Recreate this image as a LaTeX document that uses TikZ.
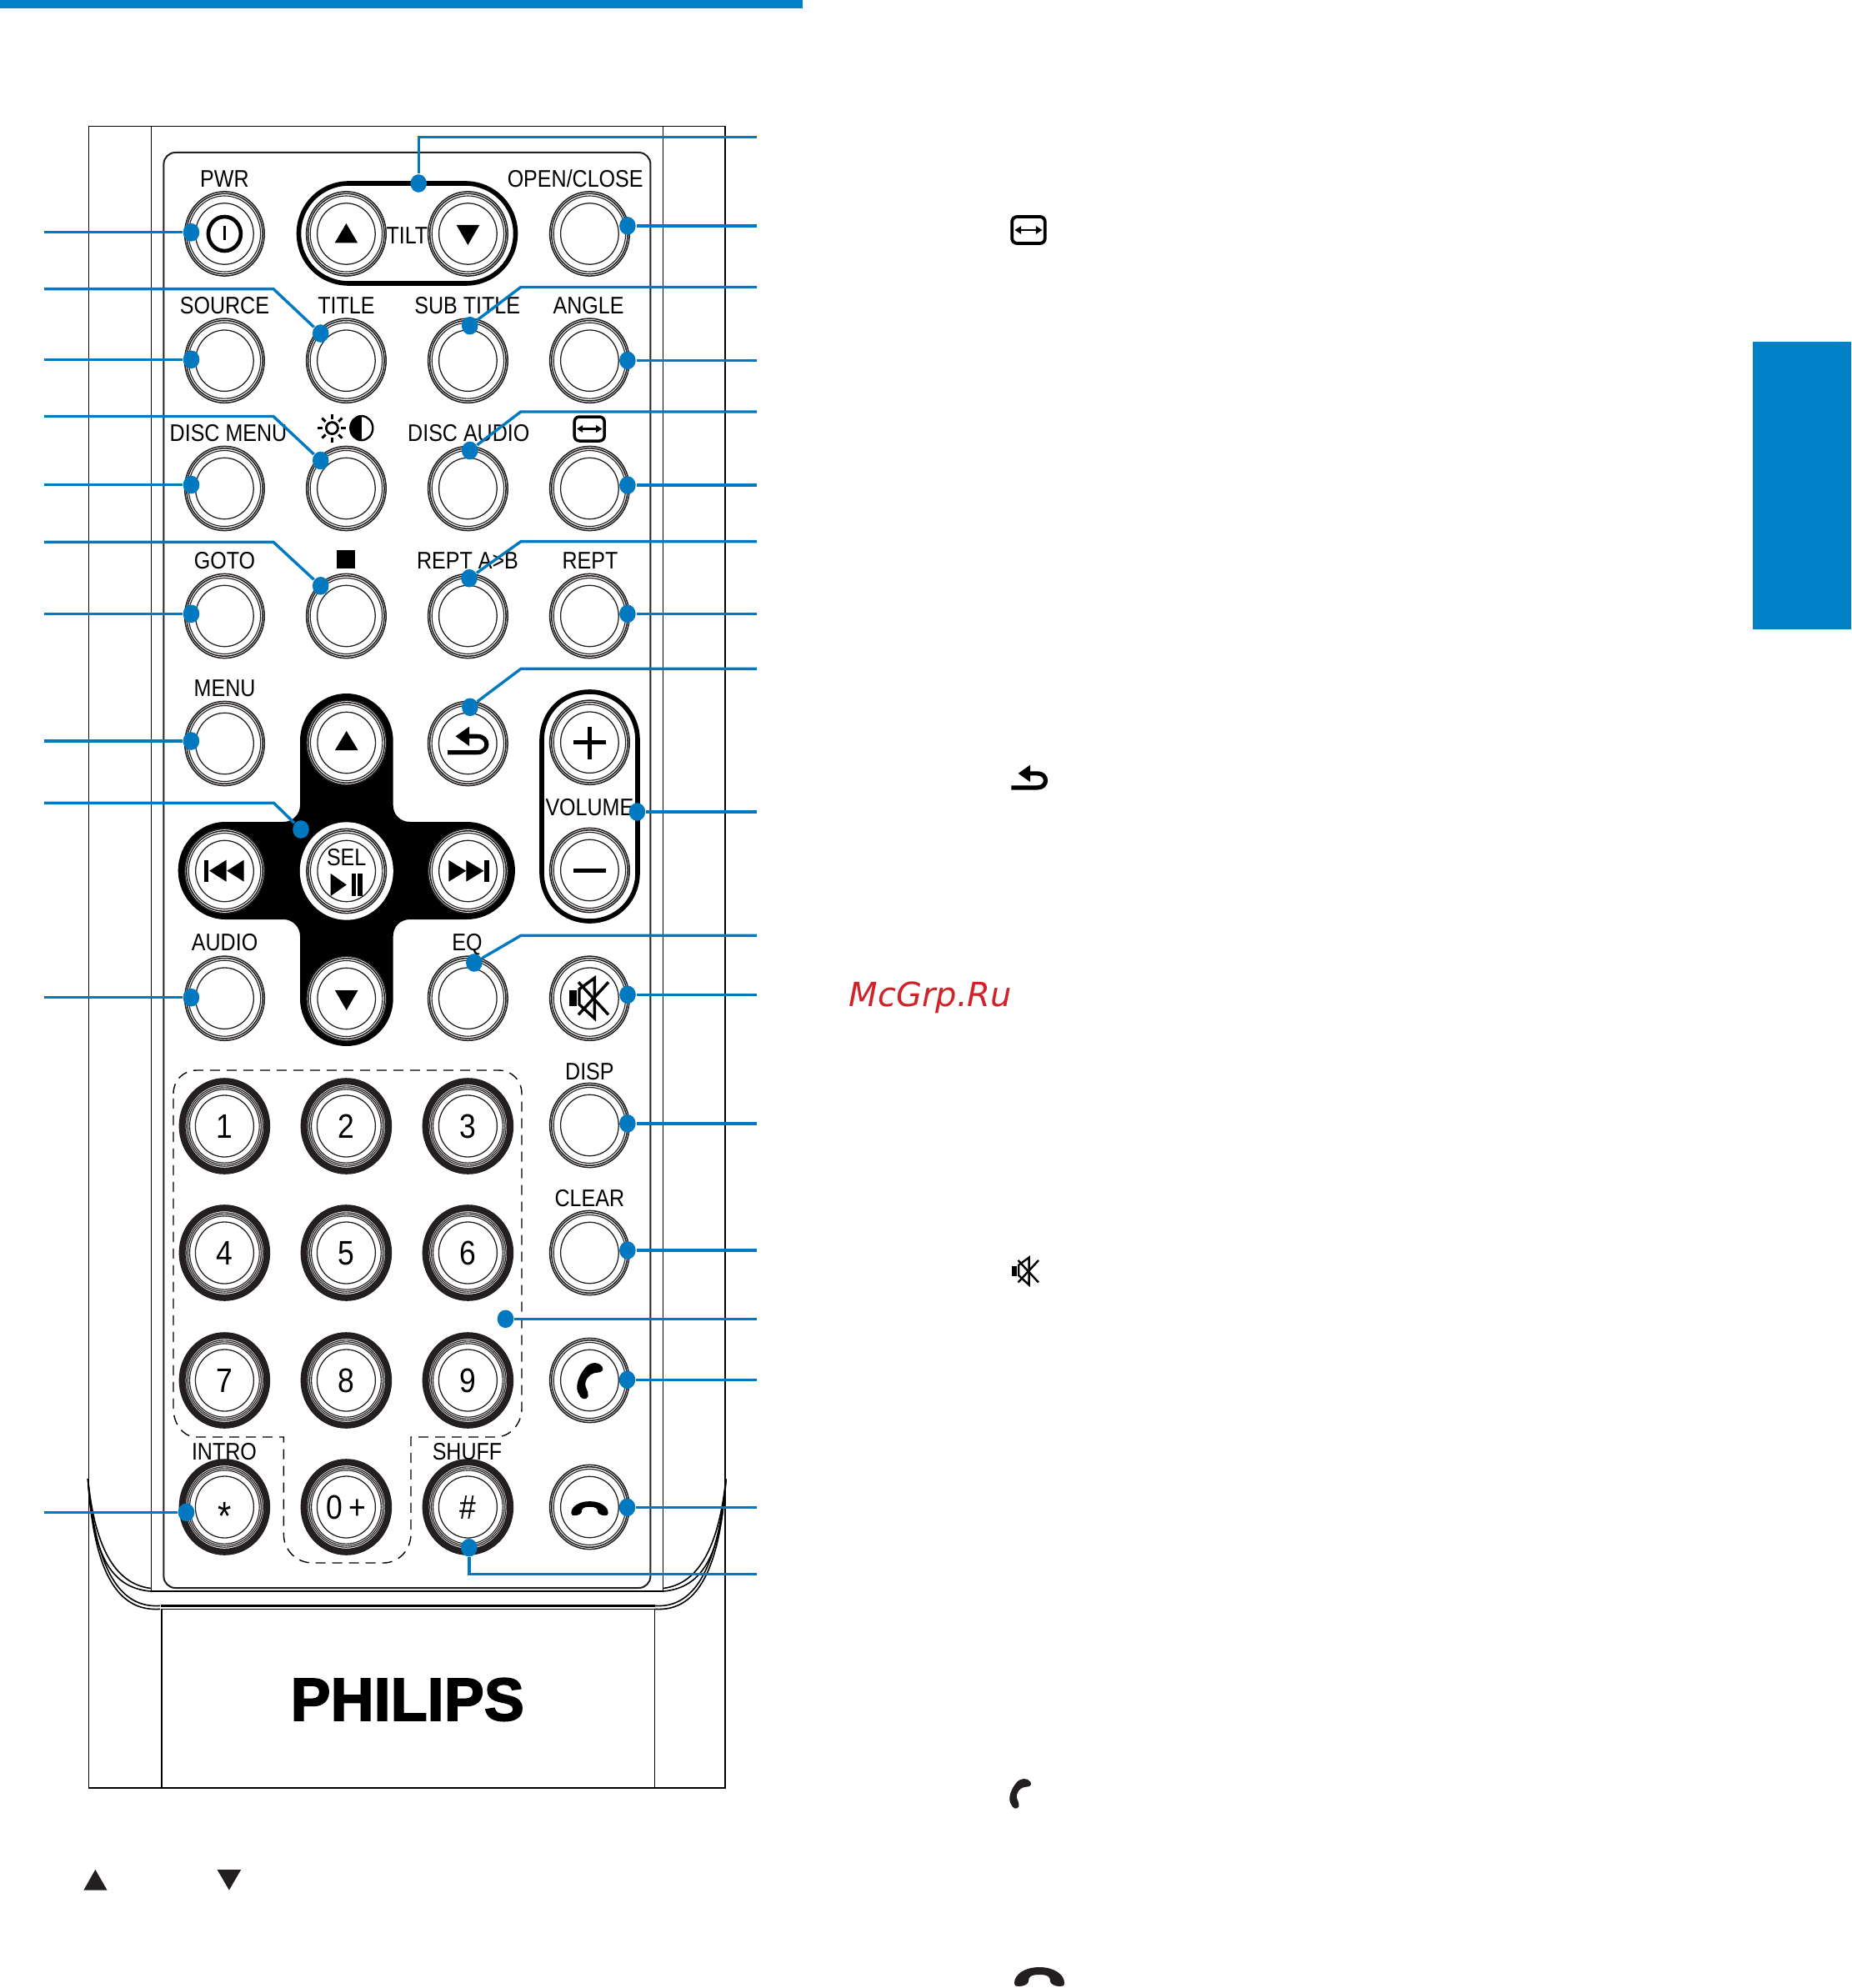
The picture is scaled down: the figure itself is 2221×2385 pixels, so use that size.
\documentclass[tikz,border=0pt]{standalone}
\usepackage{fontspec}
\usepackage{tikz}
\usetikzlibrary{shapes.geometric}
\newfontfamily\lblfont[FakeStretch=0.87]{Liberation Sans}
\newfontfamily\logofont[FakeStretch=0.99,FakeBold=2.2]{Liberation Sans Bold}
\newfontfamily\wmfont{DejaVu Sans}
\definecolor{tabblue}{HTML}{0080C6}
\definecolor{leadblue}{HTML}{0079C1}
\definecolor{inkblack}{HTML}{231F20}
\definecolor{wmred}{HTML}{D02228}

\tikzset{
	phoneicon/.pic={\filldraw[line width=.3pt] (15,-17) .. controls (11,-23) and (1,-23) .. (-5,-15) .. controls (-13,-5) and (-17,8) .. (-12,15) .. controls (-10,21) and (-4,23) .. (-2,18) .. controls (-1,11) and (-7,8) .. (-5,1) .. controls (-3,-7) and (4,-11) .. (10,-11) .. controls (14,-11) and (17,-13) .. (15,-17) -- cycle;},
	hangicon/.pic={\fill (-30,7) .. controls (-30,-3) and (-18,-12) .. (0,-12) .. controls (18,-12) and (30,-3) .. (30,7) .. controls (30,11) and (27,11) .. (24,11) .. controls (19,11) and (13,8) .. (13,5) .. controls (13,0) and (11,-3) .. (0,-3) .. controls (-11,-3) and (-13,0) .. (-13,5) .. controls (-13,8) and (-19,11) .. (-24,11) .. controls (-27,11) and (-30,11) .. (-30,7) -- cycle;},
	returnicon/.pic={\draw[line width=1.3pt] (-23.6,14.7) -- (12,14.7) .. controls (27,14.7) and (27,-4.7) .. (12,-4.7) -- (2,-4.7);
		\fill (-14,-4.7) -- (2.4,-16.3) -- (2.4,7) -- cycle;},
	muteicon/.pic={\fill (-23.2,-9.2) rectangle (-14.8,9.2);
		\draw (-11.5,-10.8) -- (6.8,-24.2) -- (6.8,24.2) -- (-11.5,7.5) -- cycle;
		\draw (-12.5,-19.2) -- (23.5,19.8);
		\draw (23.5,-19.2) -- (-12.5,19.8);},
	aspecticon/.pic={\draw[rounded corners=1.5pt] (-18,-14.5) rectangle (18,14.5);
		\draw[line width=.6pt] (-10,0) -- (10,0);
		\fill (-15,0) -- (-8,-4.5) -- (-8,4.5) -- cycle;
		\fill (15,0) -- (8,-4.5) -- (8,4.5) -- cycle;}
}

% one remote button: outer node and its rings
\newcommand{\rbtn}[3]{
	\node[rim,fill=white] (#1) at (#2,#3) {};
	\draw[line width=.38pt,draw=inkblack] (#1.center) ellipse (45.7 and 48.2);
	\draw[line width=.28pt,draw=inkblack] (#1.center) ellipse (43.2 and 45.5);
	\draw[line width=.32pt,draw=inkblack] (#1.center) ellipse (34.8 and 36.7);
}
% same, with the heavy black edge of the number keys
\newcommand{\nbtn}[3]{
	\node[numrim,fill=white] (#1) at (#2,#3) {};
	\draw[line width=.28pt,draw=inkblack] (#1.center) ellipse (45.7 and 48.2);
	\draw[line width=.28pt,draw=inkblack] (#1.center) ellipse (43.8 and 46.2);
	\draw[line width=.28pt,draw=inkblack] (#1.center) ellipse (41.8 and 44.1);
	\draw[line width=.32pt,draw=inkblack] (#1.center) ellipse (35 and 37);
}

\begin{document}
\begin{tikzpicture}[x=0.25pt,y=-0.25pt]
	\tikzstyle{rim}=[ellipse,draw=inkblack,line width=.38pt,minimum width=23.9pt,minimum height=25.3pt,inner sep=0pt]
	\tikzstyle{numrim}=[ellipse,draw=inkblack,line width=2pt,minimum width=25.4pt,minimum height=26.9pt,inner sep=0pt]
	\tikzstyle{lbl}=[inner sep=0pt,font=\lblfont\fontsize{7.2}{8}\selectfont,text height=5.15pt,text depth=0pt]
	\tikzstyle{numlbl}=[inner sep=0pt,font=\lblfont\fontsize{10.2}{11}\selectfont,text height=7.3pt,text depth=0pt]
	\tikzstyle{dot}=[ellipse,fill=leadblue,minimum width=4.9pt,minimum height=5.4pt,inner sep=0pt]
	\tikzstyle{lead}=[draw=leadblue,line width=.85pt]
	\tikzstyle{frameline}=[draw=black,line width=.4pt]
	\useasboundingbox (0,0) rectangle (2221,2385);

	% page marks
	\fill[tabblue] (0,0) rectangle (963,10.5);
	\fill[tabblue] (2103,410) rectangle (2221,755);

	% body of the remote
	\draw[frameline] (106.5,151.5) rectangle (870,2145);
	\draw[frameline] (181.5,151.5) -- (181.5,1908);
	\draw[frameline] (795.6,151.5) -- (795.6,1908);
	\draw[frameline] (194,1930.4) -- (194,2145);
	\draw[frameline] (785.6,1930.4) -- (785.6,2145);
	\draw[frameline] (105.5,1774) .. controls (113,1850) and (135,1900) .. (181,1905.5);
	\draw[frameline] (105.5,1774) .. controls (111,1860) and (130,1905) .. (181,1909);
	\draw[frameline] (105.5,1774) .. controls (114,1875) and (140,1930) .. (192,1926.4);
	\draw[frameline] (105.5,1774) .. controls (112,1880) and (138,1934) .. (192,1930.4);
	\draw[frameline] (871,1774) .. controls (863,1850) and (841,1900) .. (795.6,1905.5);
	\draw[frameline] (871,1774) .. controls (865,1860) and (846,1905) .. (795.6,1909);
	\draw[frameline] (871,1774) .. controls (862,1875) and (836,1930) .. (785.6,1926.4);
	\draw[frameline] (871,1774) .. controls (864,1880) and (838,1934) .. (785.6,1930.4);
	\draw[frameline] (181,1909) -- (795.6,1909);
	\draw[draw=black,line width=.65pt] (193,1926.4) -- (785.6,1926.4);
	\draw[frameline] (194,1930.4) -- (785.6,1930.4);
	\draw[draw=inkblack,line width=.5pt,rounded corners=3.5pt] (196.4,183) rectangle (780.4,1905);

	% dashed outline round the number keys
	\draw[draw=black,line width=.35pt,dash pattern=on 3pt off 2pt] (208,1312) .. controls (208,1296) and (220,1284) .. (236,1284) -- (598,1284) .. controls (614,1284) and (626,1296) .. (626,1312) -- (626,1690) .. controls (626,1708) and (612,1724) .. (595,1724) -- (493,1724) -- (493,1840) .. controls (493,1860) and (478,1875) .. (460,1875) -- (375,1875) .. controls (356,1875) and (340,1860) .. (340.4,1840) -- (340.4,1724) -- (235,1724) .. controls (220,1724) and (208,1708) .. (208,1690) -- cycle;

	% black pads under the keys
	\draw[line width=1.4pt] (418.5,220) -- (558.5,220) .. controls (592,220) and (618.5,247) .. (618.5,280) .. controls (618.5,314) and (592,340) .. (558.5,340) -- (418.5,340) .. controls (385,340) and (358.5,314) .. (358.5,280) .. controls (358.5,247) and (385,220) .. (418.5,220) -- cycle;
	\draw[line width=1.4pt] (650,888) .. controls (650,855) and (675,830) .. (707.5,830) .. controls (740,830) and (765,855) .. (765,888) -- (765,1047) .. controls (765,1080) and (740,1105) .. (707.5,1105) .. controls (675,1105) and (650,1080) .. (650,1047) -- cycle;
	\fill (360,889) .. controls (360,857) and (385,832) .. (415.8,832) .. controls (446,832) and (471.7,857) .. (471.7,889) -- (471.7,966) .. controls (471.7,977) and (480,986) .. (492,986) -- (560,986) .. controls (592,986) and (617.9,1012) .. (617.9,1044.5) .. controls (617.9,1077) and (592,1103) .. (560,1103) -- (492,1103) .. controls (480,1103) and (471.7,1112) .. (471.7,1123) -- (471.7,1198) .. controls (471.7,1230) and (446,1255) .. (415.8,1255) .. controls (385,1255) and (360,1230) .. (360,1198) -- (360,1123) .. controls (360,1112) and (351,1103) .. (340,1103) -- (270,1103) .. controls (240,1103) and (213.7,1077) .. (213.7,1044.5) .. controls (213.7,1012) and (240,986) .. (270,986) -- (340,986) .. controls (351,986) and (360,977) .. (360,966) -- cycle;
	\fill[white] (415.8,1045) ellipse (56 and 58.7);

	% keys
	\foreach \n/\x/\y in {pwr/269.4/280.5,tup/415.4/280.5,tdn/561.4/280.5,opn/707.4/280.5,
		src/269.4/432.7,ttl/415.4/432.7,sub/561.4/432.7,ang/707.4/432.7,
		dmn/269.4/586,bri/415.4/586,dau/561.4/586,asp/707.4/586,
		gto/269.4/739,stp/415.4/739,rab/561.4/739,rpt/707.4/739,
		mnu/269.5/892,up/415.7/891,ret/561.3/892,vup/707.4/890.7,
		prv/269.5/1045,sel/415.7/1045,nxt/561.5/1045,vdn/707.4/1044,
		aud/269.5/1197.7,dn/415.7/1198,eqz/561.3/1197.7,mut/707.4/1197.7,
		dsp/707.4/1350,clr/707.4/1503,pho/707.4/1656,hng/707.4/1808}
		{\rbtn{\n}{\x}{\y}}
	\foreach \n/\x/\y in {one/269.4/1351,two/415.4/1351,thr/561.4/1351,
		fou/269.4/1503,fiv/415.4/1503,six/561.4/1503,
		sev/269.4/1656,eig/415.4/1656,nin/561.4/1656,
		ast/269.4/1808,zer/415.4/1808,has/561.4/1808}
		{\nbtn{\n}{\x}{\y}}

	% labels
	\node[lbl] (tpwr) at (269.4,214) {PWR};
	\node[lbl] (topn) at (690.2,214) {OPEN/CLOSE};
	\node[lbl] (ttlt) at (488.4,282) {TILT};
	\node[lbl] (tsrc) at (269.4,366) {SOURCE};
	\node[lbl] (tttl) at (415.5,366) {TITLE};
	\node[lbl] (tsub) at (560.7,366) {SUB TITLE};
	\node[lbl] (tang) at (706,366) {ANGLE};
	\node[lbl] (tdmn) at (274,519) {DISC MENU};
	\node[lbl] (tdau) at (562.3,519) {DISC AUDIO};
	\node[lbl] (tgto) at (269.5,672.5) {GOTO};
	\node[lbl] (trab) at (561,672.5) {REPT A>B};
	\node[lbl] (trpt) at (708,672.5) {REPT};
	\node[lbl] (tmnu) at (269.6,825) {MENU};
	\node[lbl] (tvol) at (707.4,968) {VOLUME};
	\node[lbl] (taud) at (269.6,1130) {AUDIO};
	\node[lbl] (teqz) at (560.5,1130) {EQ};
	\node[lbl] (tdsp) at (707.4,1285) {DISP};
	\node[lbl] (tclr) at (707.4,1437.5) {CLEAR};
	\node[lbl] (tint) at (269,1741) {INTRO};
	\node[lbl] (tshf) at (560.5,1741) {SHUFF};
	\node[lbl] (tsel) at (415.7,1028) {SEL};
	\node[numlbl] (n1) at (one) {1};
	\node[numlbl] (n2) at (two) {2};
	\node[numlbl] (n3) at (thr) {3};
	\node[numlbl] (n4) at (fou) {4};
	\node[numlbl] (n5) at (fiv) {5};
	\node[numlbl] (n6) at (six) {6};
	\node[numlbl] (n7) at (sev) {7};
	\node[numlbl] (n8) at (eig) {8};
	\node[numlbl] (n9) at (nin) {9};
	\node[numlbl] (n0) at (zer) {0\,+};
	\node[numlbl] (nh) at (has) {\#};
	\node[inner sep=0pt,font=\lblfont\fontsize{12}{13}\selectfont,text height=8.6pt,text depth=0pt] (ns) at (269.4,1818) {*};

	% key symbols
	\draw[line width=1.15pt] (269.4,280.5) ellipse (19.5 and 20.5);
	\fill (267.6,271) rectangle (271.2,288);
	\fill (415.4,268) -- (429.2,291.5) -- (401.6,291.5) -- cycle;
	\fill (547.7,270) -- (575.2,270) -- (561.4,294) -- cycle;
	\fill (415.7,877) -- (429.5,900) -- (401.9,900) -- cycle;
	\fill (401.9,1188) -- (429.5,1188) -- (415.7,1212) -- cycle;
	\fill (244.7,1031.7) rectangle (250,1057.7);
	\fill (251.2,1044.7) -- (271.5,1031.7) -- (271.5,1057.7) -- cycle;
	\fill (272.3,1044.7) -- (292.6,1031.7) -- (292.6,1057.7) -- cycle;
	\fill (581,1032) rectangle (586.5,1057.7);
	\fill (580.4,1044.8) -- (559.3,1032) -- (559.3,1057.7) -- cycle;
	\fill (559.3,1044.8) -- (538.3,1032) -- (538.3,1057.7) -- cycle;
	\fill (396.7,1048) -- (415.8,1061.5) -- (396.7,1075) -- cycle;
	\fill (421.5,1048) rectangle (426.5,1074.5);
	\fill (429,1048) rectangle (435,1074.5);
	\fill (687.5,888) rectangle (727,893.4);
	\fill (704.7,871.7) rectangle (710.1,911);
	\fill (687.5,1041.6) rectangle (727,1047);
	\fill (404,660) rectangle (426,681.5);
	% brightness and contrast
	\draw[line width=.7pt] (398.4,513.6) ellipse (7 and 7);
	\foreach \a in {0,45,...,315}
		\draw[line width=.75pt] (398.4,513.6) ++(\a:11) -- ++(\a:6);
	\draw[line width=.6pt] (433.8,513.6) ellipse (13.5 and 14.5);
	\fill (433.8,499.1) arc[start angle=90,end angle=270,x radius=13.5,y radius=-14.5] -- cycle;
	\pic[line width=.875pt] at (707.2,514.5) {aspecticon};
	\pic at (560.6,888) {returnicon};
	\pic[line width=.85pt] at (706.5,1197.5) {muteicon};
	\pic at (707,1657) {phoneicon};
	\pic[scale=.74] at (707.5,1810) {hangicon};

	% PHILIPS
	\node[inner sep=0pt,font=\logofont\fontsize{18.2}{20}\selectfont,text height=13pt,text depth=0pt] (logo) at (488.7,2038) {PHILIPS};

	% straight leaders, left
	\foreach \n/\dx/\y in {pwr/229.5/278.8,src/229.5/431.3,dmn/229.5/581.5,gto/229.5/736.3,mnu/229.4/889,aud/229.4/1196.7,ast/223.5/1814.3}
		{\coordinate (l\n) at (53,\y);
		\node[dot] (d\n) at (\dx,\y) {};
		\draw[lead] (l\n) -- (d\n);}
	% straight leaders, right
	\foreach \n/\dx/\y in {opn/752.9/270.9,ang/752.9/432.4,asp/752.9/582.1,rpt/752.9/736.3,vol/764.4/974,mut/753/1193.3,dsp/752.9/1347.8,clr/752.9/1500,num/606.5/1582.3,pho/752.5/1655.3,hng/752.5/1808.3}
		{\coordinate (r\n) at (908,\y);
		\node[dot] (d\n) at (\dx,\y) {};
		\draw[lead] (d\n) -- (r\n);}
	% bent leaders, left
	\foreach \n/\y/\kx/\dx/\dy in {ttl/346.6/328/384.7/400,bri/499.5/328/384.7/552.5,stp/650.3/328/384.7/702.8,pad/963.3/328.5/361/995}
		{\coordinate (l\n) at (53,\y);
		\coordinate (k\n) at (\kx,\y);
		\node[dot] (d\n) at (\dx,\dy) {};
		\draw[lead] (l\n) -- (k\n) -- (d\n);}
	% bent leaders, right
	\foreach \n/\y/\kx/\dx/\dy in {sub/344.5/624.8/563.7/390.7,dau/494/624.8/563.7/540.5,rab/649.6/625/563/693.7,ret/802.3/625/563.9/848.3,eqz/1122.3/625/568.9/1155}
		{\coordinate (r\n) at (908,\y);
		\coordinate (k\n) at (\kx,\y);
		\node[dot] (d\n) at (\dx,\dy) {};
		\draw[lead] (r\n) -- (k\n) -- (d\n);}
	\coordinate (rtlt) at (908,164.8);
	\coordinate (ktlt) at (502.2,164.8);
	\node[dot] (dtlt) at (502.2,220) {};
	\draw[lead] (rtlt) -- (ktlt) -- (dtlt);
	\coordinate (rhas) at (908,1888.3);
	\coordinate (khas) at (562.8,1888.3);
	\node[dot] (dhas) at (562.8,1856.7) {};
	\draw[lead] (rhas) -- (khas) -- (dhas);

	% tilt arrows under the drawing
	\fill[inkblack] (114.4,2242.9) -- (128.5,2267.5) -- (100.4,2267.5) -- cycle;
	\fill[inkblack] (260.6,2243) -- (289.2,2243) -- (274.9,2267.5) -- cycle;

	% icons beside the text column
	\pic[scale=1.1,line width=.95pt] at (1234,276) {aspecticon};
	\pic[scale=.88] at (1234,932) {returnicon};
	\pic[scale=.68,line width=.6pt] at (1230,1525) {muteicon};
	\pic[scale=.82,inkblack] at (1223.5,2152) {phoneicon};
	\pic[inkblack] at (1247,2372) {hangicon};

	\node[inner sep=0pt,anchor=base west,text=wmred,font=\wmfont\itshape\fontsize{10}{12}\selectfont] (wmark) at (1018,1207) {McGrp.Ru};
\end{tikzpicture}
\end{document}
